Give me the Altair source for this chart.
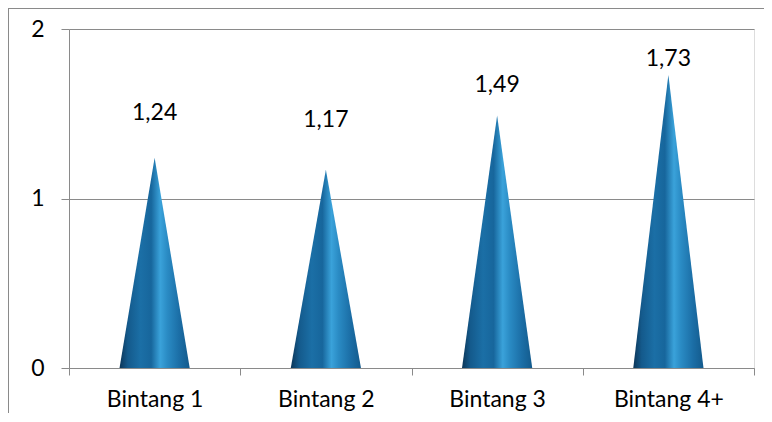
import json
import altair as alt
import pandas as pd

categories = ["Bintang 1", "Bintang 2", "Bintang 3", "Bintang 4+"]
values = [1.24, 1.17, 1.49, 1.73]
y_ticks = [0, 1, 2]

HALF = 0.205  # half base width of each cone, in category units
rows = []
for i, (c, v) in enumerate(zip(categories, values)):
    cx = i + 0.5
    rows += [
        {"cat": c, "x": cx - HALF, "y": 0.0},
        {"cat": c, "x": cx, "y": v},
        {"cat": c, "x": cx + HALF, "y": 0.0},
    ]
cones = pd.DataFrame(rows)
labels = pd.DataFrame({"cat": categories, "value": values,
                       "pos": [i + 0.5 for i in range(len(categories))]})

FONT = "Lato"
GRAY = "#8a8a8a"

xscale = alt.Scale(domain=[0, len(categories)], nice=False, zero=False)
yscale = alt.Scale(domain=[0, 2], nice=False)

x_vals = [i * 0.5 for i in range(2 * len(categories) + 1)]
label_expr = "datum.value % 1 == 0.5 ? " + json.dumps(categories) + "[floor(datum.value)] : ''"

xaxis = alt.Axis(values=x_vals, labelExpr=label_expr, title=None, grid=False,
                 domainColor=GRAY, tickColor=GRAY, tickSize=7,
                 tickOpacity={"condition": {"test": "datum.value % 1 != 0", "value": 0}, "value": 1},
                 labelFont=FONT, labelFontSize=23, labelColor="black", labelPadding=13,
                 labelOverlap=False, labelFlush=False)
yaxis = alt.Axis(values=y_ticks, format=".0f", title=None, grid=True, gridColor=GRAY,
                 domainColor=GRAY, tickColor=GRAY, tickSize=8, labelOverlap=False,
                 labelFlush=False,
                 labelFont=FONT, labelFontSize=23, labelColor="black", labelPadding=17)

grad = alt.LinearGradient(
    gradient="linear", x1=0, x2=1, y1=0, y2=0,
    stops=[
        alt.GradientStop(color="#0c3658", offset=0),
        alt.GradientStop(color="#145a8c", offset=0.12),
        alt.GradientStop(color="#1b6fa6", offset=0.3),
        alt.GradientStop(color="#17669c", offset=0.45),
        alt.GradientStop(color="#3aa2da", offset=0.58),
        alt.GradientStop(color="#2a8bc4", offset=0.68),
        alt.GradientStop(color="#1b6ea6", offset=0.85),
        alt.GradientStop(color="#135a8c", offset=1),
    ],
)

area = alt.Chart(cones).mark_area(color=grad).encode(
    x=alt.X("x:Q", scale=xscale, axis=xaxis),
    y=alt.Y("y:Q", scale=yscale, axis=yaxis, stack=None),
    detail="cat:N",
)

text = alt.Chart(labels).transform_calculate(
    ly="0.65 * datum.value + 0.7",
    txt="replace(format(datum.value, '.2f'), '.', ',')",
).mark_text(font=FONT, fontSize=23, color="black").encode(
    x=alt.X("pos:Q", scale=xscale),
    y=alt.Y("ly:Q", scale=yscale),
    text="txt:N",
)

frame_left = alt.Chart(labels).mark_rule(color=GRAY, strokeWidth=1).encode(
    x=alt.value(-60.5), y=alt.value(-20.5), y2=alt.value(500))
frame_top = alt.Chart(labels).mark_rule(color=GRAY, strokeWidth=1).encode(
    x=alt.value(-60.5), x2=alt.value(800), y=alt.value(-20.5))

chart = alt.layer(area, text, frame_left, frame_top).properties(
    width=685, height=339,
    autosize=alt.AutoSizeParams(type="none"),
    padding={"left": 61, "top": 21, "right": 10, "bottom": 45},
).configure_view(stroke=None).configure(background="white")

chart.save("out.html", embed_options={"renderer": "svg", "actions": False})
